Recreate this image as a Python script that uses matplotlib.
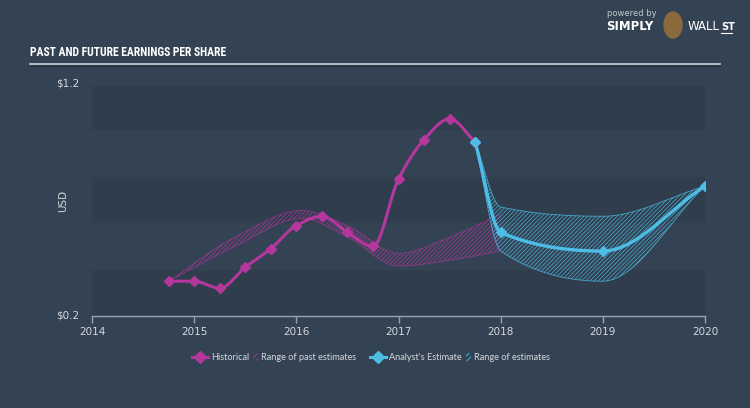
import numpy as np
import matplotlib
matplotlib.use("Agg")
import matplotlib.pyplot as plt
from matplotlib.lines import Line2D
from matplotlib.patches import Rectangle, Ellipse
from matplotlib import font_manager as fm

# ---------------- data ----------------
hist_x = [2014.75, 2015.0, 2015.25, 2015.5, 2015.75, 2016.0, 2016.25, 2016.5,
          2016.75, 2017.0, 2017.25, 2017.5, 2017.75]
hist_y = [0.35, 0.35, 0.32, 0.41, 0.49, 0.59, 0.63, 0.56, 0.50, 0.79, 0.96, 1.05, 0.95]

past_rng_x = [2014.75, 2015.4, 2016.05, 2016.5, 2017.0, 2017.5, 2018.0]
past_rng_hi = [0.35, 0.54, 0.655, 0.59, 0.47, 0.54, 0.64]
past_rng_lo = [0.35, 0.50, 0.62, 0.54, 0.415, 0.44, 0.48]

est_x = [2017.75, 2018.0, 2019.0, 2020.0]
est_y = [0.95, 0.56, 0.48, 0.76]
est_hi = [0.95, 0.67, 0.63, 0.76]
est_lo = [0.95, 0.48, 0.35, 0.76]

year_ticks = [2014, 2015, 2016, 2017, 2018, 2019, 2020]
y_ticks = [0.2, 1.2]
y_tick_labels = ["$0.2", "$1.2"]

# ---------------- styles ----------------
BG = "#344354"
BAND = "#303d4d"
MAG = "#b5379e"
CYAN = "#4dbde6"
TXT = "#d4d8dc"

plt.rcParams['hatch.linewidth'] = 0.6

names = {f.name for f in fm.fontManager.ttflist}
title_font, title_size = "DejaVu Sans", 7.2
for cand, sz in [("Roboto Condensed", 8.4), ("Open Sans Condensed", 8.4),
                 ("Liberation Sans Narrow", 8.2), ("DejaVu Sans Condensed", 7.6),
                 ("Noto Sans Condensed", 8.2)]:
    if cand in names:
        title_font, title_size = cand, sz
        break
legend_font = "Lato" if "Lato" in names else "DejaVu Sans"


def monotone(x, y, n=40):
    """Monotone cubic (Fritsch-Carlson) path through the given points."""
    x = np.asarray(x, float)
    y = np.asarray(y, float)
    h = np.diff(x)
    d = np.diff(y) / h
    m = np.zeros_like(y)
    m[0], m[-1] = d[0], d[-1]
    for i in range(1, len(y) - 1):
        if d[i - 1] * d[i] <= 0:
            m[i] = 0.0
        else:
            w1 = 2 * h[i] + h[i - 1]
            w2 = h[i] + 2 * h[i - 1]
            m[i] = (w1 + w2) / (w1 / d[i - 1] + w2 / d[i])
    xs, ys = [], []
    for i in range(len(x) - 1):
        t = np.linspace(0, 1, n, endpoint=(i == len(x) - 2))
        h00 = 2 * t**3 - 3 * t**2 + 1
        h10 = t**3 - 2 * t**2 + t
        h01 = -2 * t**3 + 3 * t**2
        h11 = t**3 - t**2
        xs.append(x[i] + t * h[i])
        ys.append(h00 * y[i] + h10 * h[i] * m[i] + h01 * y[i + 1] + h11 * h[i] * m[i + 1])
    return np.concatenate(xs), np.concatenate(ys)


W, H = 750, 408
fig = plt.figure(figsize=(W / 100, H / 100), dpi=100, facecolor=BG)


def fx(px):
    return px / W


def fy(py):
    return 1 - py / H


ax = fig.add_axes([fx(92), fy(316), (705 - 92) / W, (316 - 84) / H])
ax.set_facecolor(BG)
ax.set_xlim(2014, 2020)
ax.set_ylim(0.2, 1.2)

# horizontal bands
for lo, hi in [(0.2, 0.4), (0.6, 0.8), (1.0, 1.19)]:
    ax.axhspan(lo, hi, color=BAND, lw=0, zorder=0)

# past estimate range
px_u, py_u = monotone(past_rng_x, past_rng_hi)
px_l, py_l = monotone(past_rng_x, past_rng_lo)
ax.fill_between(px_u, py_l, py_u, facecolor="none", edgecolor=MAG, hatch="////////",
                lw=0, zorder=2, alpha=0.75)
ax.plot(px_u, py_u, color=MAG, lw=0.6, alpha=0.6, zorder=2)
ax.plot(px_l, py_l, color=MAG, lw=0.6, alpha=0.6, zorder=2)

# future estimate range
ex_u, ey_u = monotone(est_x, est_hi)
ex_l, ey_l = monotone(est_x, est_lo)
ax.fill_between(ex_u, ey_l, ey_u, facecolor="none", edgecolor=CYAN, hatch="////////",
                lw=0, zorder=2, alpha=0.75)
ax.plot(ex_u, ey_u, color=CYAN, lw=0.6, alpha=0.8, zorder=2)
ax.plot(ex_l, ey_l, color=CYAN, lw=0.6, alpha=0.8, zorder=2)

# historical line
hx, hy = monotone(hist_x, hist_y)
ax.plot(hx, hy, color=MAG, lw=2.2, zorder=4, solid_capstyle="round")
ax.plot(hist_x, hist_y, ls="none", marker="D", ms=5, color=MAG, zorder=5)

# analyst estimate line
sx, sy = monotone(est_x, est_y)
ax.plot(sx, sy, color=CYAN, lw=2.4, zorder=4, solid_capstyle="round")
ax.plot(est_x, est_y, ls="none", marker="D", ms=5, color=CYAN, zorder=5)

# axes styling
for s in ["top", "right", "left"]:
    ax.spines[s].set_visible(False)
ax.spines["bottom"].set_color("#9aa3ad")
ax.spines["bottom"].set_linewidth(1.0)
ax.set_xticks(year_ticks)
ax.set_xticklabels([str(y) for y in year_ticks])
ax.tick_params(axis="x", colors="#9aa3ad", labelcolor=TXT, length=5, width=1,
               labelsize=7.5, pad=3)
ax.set_yticks([])
ax.tick_params(axis="y", length=0)

# y labels
for v, lab in zip(y_ticks, y_tick_labels):
    ax.text(-0.02, (v - 0.2) / 1.0, lab, transform=ax.transAxes, ha="right",
            va="center", color=TXT, fontsize=7.5)
fig.text(fx(63), fy(201), "USD", rotation=90, ha="center", va="center",
         color=TXT, fontsize=7.5)

# title and rule
fig.text(fx(30), fy(53), "PAST AND FUTURE EARNINGS PER SHARE",
         family=[title_font, "DejaVu Sans"], weight="bold",
         fontsize=title_size, color="white", ha="left", va="center")
fig.add_artist(Line2D([fx(30), fx(720)], [fy(64), fy(64)], color="#c9d0d8", lw=1.2))
fig.add_artist(Line2D([fx(30), fx(720)], [fy(65.5), fy(65.5)], color="#1f2833", lw=0.6))

# logo
fig.text(fx(607), fy(14), "powered by", fontsize=6, color="#c0c6cc", ha="left", va="center")
fig.text(fx(606), fy(27), "SIMPLY", fontsize=8.5, weight="bold", color="white",
         ha="left", va="center")
fig.add_artist(Ellipse((fx(673), fy(25)), 18 / W, 26 / H, color="#8a6a3c"))
fig.text(fx(688), fy(27), "WALL", fontsize=8.5, color="white", ha="left", va="center")
fig.text(fx(721), fy(27), "ST", fontsize=7, weight="bold", color="white",
         ha="left", va="center")
fig.add_artist(Line2D([fx(721), fx(732)], [fy(33), fy(33)], color="white", lw=0.8))

# legend (chained left to right)
fig.canvas.draw()
renderer = fig.canvas.get_renderer()
ly = fy(357)
fs = 6.6
cursor = 192.0


def add_marker(color):
    global cursor
    fig.add_artist(Line2D([fx(cursor), fx(cursor + 8), fx(cursor + 16)], [ly, ly, ly],
                          color=color, lw=2.2, marker="D", markevery=[1], ms=6))
    cursor += 19


def add_hatch(color):
    global cursor
    cursor += 4
    fig.add_artist(Rectangle((fx(cursor), fy(361)), 5 / W, 8 / H, facecolor="none",
                             edgecolor=color, hatch="//////", lw=0))
    cursor += 8


def add_label(s):
    global cursor
    t = fig.text(fx(cursor), ly, s, color=TXT, fontsize=fs, family=legend_font,
                 ha="left", va="center")
    bb = t.get_window_extent(renderer)
    cursor += bb.width


add_marker(MAG)
add_label("Historical")
add_hatch(MAG)
add_label("Range of past estimates")
cursor = max(cursor + 14, 370)
add_marker(CYAN)
add_label("Analyst's Estimate")
add_hatch(CYAN)
add_label("Range of estimates")

fig.savefig("out.png", dpi=100, facecolor=BG)
